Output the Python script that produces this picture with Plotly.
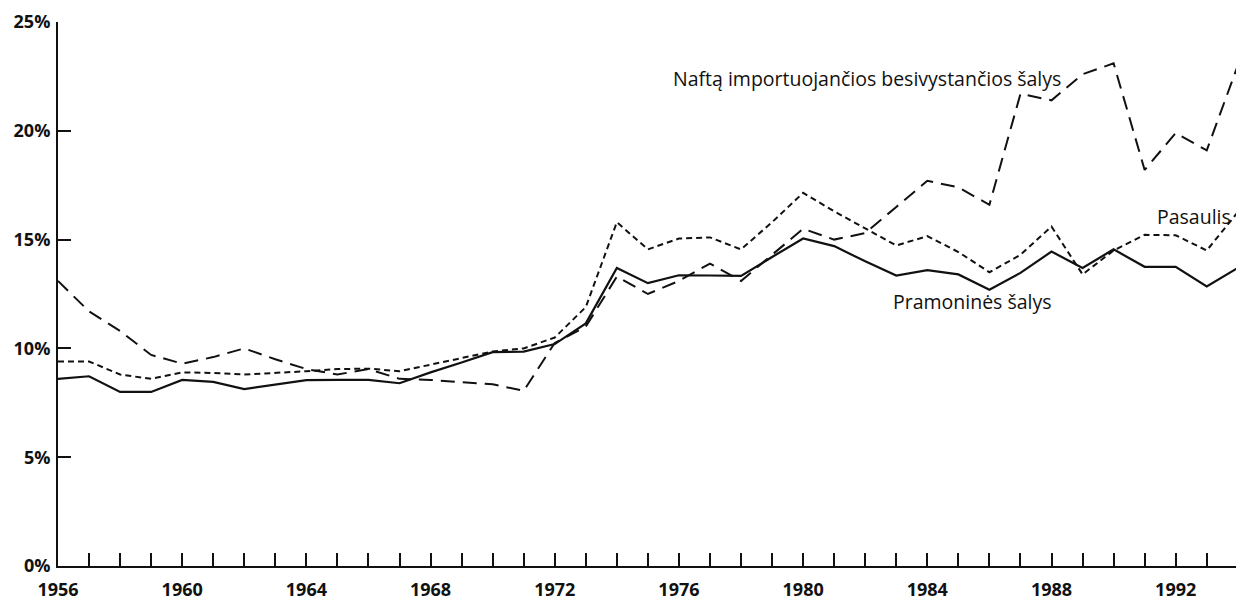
import plotly.graph_objects as go

years = list(range(1956, 1995))

pramonines = [8.6, 8.72, 8.0, 8.0, 8.55, 8.46, 8.13, 8.35, 8.54, 8.55,
              8.55, 8.4, 8.9, 9.35, 9.83, 9.85, 10.2, 11.15, 13.7, 13.0,
              13.36, 13.35, 13.33, 14.2, 15.05, 14.7, 14.0, 13.35, 13.6, 13.4,
              12.7, 13.47, 14.45, 13.7, 14.55, 13.75, 13.75, 12.85, 13.7]

pasaulis = [9.4, 9.4, 8.8, 8.6, 8.9, 8.87, 8.8, 8.87, 8.95, 9.05,
            9.07, 8.95, 9.25, 9.55, 9.86, 10.0, 10.5, 11.9, 15.8, 14.55,
            15.05, 15.1, 14.55, 15.8, 17.15, 16.3, 15.5, 14.73, 15.16, 14.43,
            13.5, 14.3, 15.6, 13.4, 14.5, 15.22, 15.2, 14.5, 16.26]

nafta = [13.1, 11.7, 10.8, 9.7, 9.3, 9.6, 10.0, 9.5, 9.05, 8.8,
         9.05, 8.6, 8.55, 8.45, 8.35, 8.05, 10.25, 11.0, 13.3, 12.5,
         13.1, 13.9, 13.1, 14.3, 15.5, 15.0, 15.3, 16.5, 17.7, 17.4,
         16.6, 21.7, 21.4, 22.6, 23.1, 18.2, 19.9, 19.1, 23.0]

label_years = [1956, 1960, 1964, 1968, 1972, 1976, 1980, 1984, 1988, 1992]
y_ticks = [0, 5, 10, 15, 20, 25]
y_tick_text = ["0%", "5%", "10%", "15%", "20%", "25%"]

series_labels = {
    "nafta": ("Naftą importuojančios besivystančios šalys", 1975.74, 22.4),
    "pasaulis": ("Pasaulis", 1991.33, 16.04),
    "pramonines": ("Pramoninės šalys", 1982.83, 12.14),
}

INK = "#111111"
fig = go.Figure()
fig.add_trace(go.Scatter(x=years, y=nafta, mode="lines",
                         line=dict(color=INK, width=2, dash="14px,8px")))
fig.add_trace(go.Scatter(x=years, y=pasaulis, mode="lines",
                         line=dict(color=INK, width=2, dash="6px,4px")))
fig.add_trace(go.Scatter(x=years, y=pramonines, mode="lines",
                         line=dict(color=INK, width=2.2)))

for key, (txt, xx, yy) in series_labels.items():
    fig.add_annotation(x=xx, y=yy, text=txt, showarrow=False, xanchor="left",
                       yanchor="middle",
                       font=dict(family="Open Sans", size=19.5, color=INK))

# page body adds an 8px offset, so the figure is sized to fit the window
fig.update_layout(
    width=1236, height=595,
    margin=dict(l=50, r=0, t=14, b=37),
    paper_bgcolor="white", plot_bgcolor="white",
    showlegend=False,
    font=dict(family="Open Sans", color=INK),
)
fig.update_xaxes(
    range=[1956, 1994.2], showgrid=False, zeroline=False, automargin=False,
    showline=True, linecolor=INK, linewidth=2,
    tickmode="array", tickvals=years,
    ticktext=[str(y) if y in label_years else "" for y in years],
    ticks="inside", ticklen=13, tickwidth=1.5, tickcolor=INK,
    ticklabelstandoff=6, ticklabeloverflow="allow",
    tickfont=dict(family="Open Sans", size=18, color=INK, weight="bold"),
)
fig.update_yaxes(
    range=[0, 25], showgrid=False, zeroline=False, automargin=False,
    showline=True, linecolor=INK, linewidth=2,
    tickmode="array", tickvals=y_ticks, ticktext=y_tick_text,
    ticks="inside", ticklen=13, tickwidth=1.5, tickcolor=INK,
    ticklabelstandoff=2, ticklabeloverflow="allow",
    tickfont=dict(family="Open Sans", size=18, color=INK, weight="bold"),
)

fig.write_html("out.html")
